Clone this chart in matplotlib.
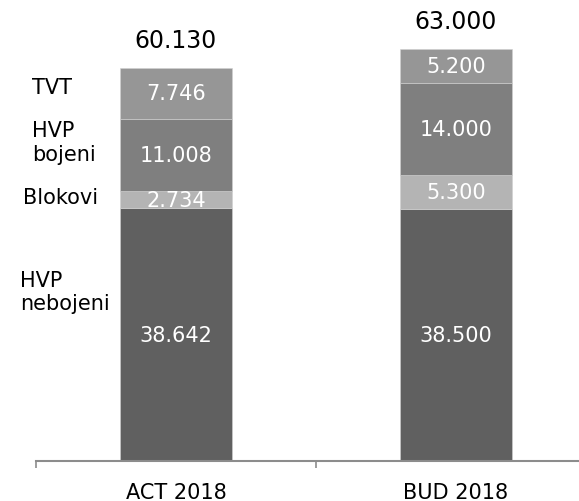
import matplotlib
matplotlib.use("Agg")
import matplotlib.pyplot as plt

# data (values in thousands, shown with dot separators)
categories = ["ACT 2018", "BUD 2018"]
series_names = ["HVP\nnebojeni", "Blokovi", "HVP\nbojeni", "TVT"]
hvp_nebojeni = [38642, 38500]
blokovi = [2734, 5300]
hvp_bojeni = [11008, 14000]
tvt = [7746, 5200]
totals = [60130, 63000]

colors = ["#606060", "#b4b4b4", "#7f7f7f", "#969696"]


def fmt(v):
    return "{:,}".format(v).replace(",", ".")


plt.rcParams["font.family"] = "DejaVu Sans"
fig = plt.figure(figsize=(5.79, 5.02), dpi=100)
ax = fig.add_axes([36 / 579, 40 / 502, 560 / 579, 457.5 / 502])

x = list(range(len(categories)))
bottom = [0, 0]
for vals, col in zip([hvp_nebojeni, blokovi, hvp_bojeni, tvt], colors):
    ax.bar(x, vals, width=0.4, bottom=bottom, color=col,
           edgecolor="#d0d0d0", linewidth=0.4)
    for i, v in enumerate(vals):
        ax.text(x[i], bottom[i] + v / 2, fmt(v), ha="center", va="center",
                color="white", fontsize=15)
    bottom = [b + v for b, v in zip(bottom, vals)]

# totals above bars
for i, t in enumerate(totals):
    ax.annotate(fmt(t), (x[i], t), xytext=(0, 20), textcoords="offset points",
                ha="center", va="center", fontsize=17, color="black")

# series names on the left
label_pos = [(-0.557, 25900), (-0.546, 40400), (-0.514, 48800), (-0.514, 57200)]
for name, (lx, ly) in zip(series_names, label_pos):
    ax.text(lx, ly, name, ha="left", va="center", fontsize=15,
            color="black", linespacing=1.2, clip_on=False)

ax.set_xlim(-0.5, 1.5)
ax.set_ylim(0, 70000)
ax.set_xticks(x)
ax.set_xticklabels(categories, fontsize=15)
ax.tick_params(axis="x", which="major", length=0, pad=15)
ax.set_xticks([-0.5, 0.5, 1.5], minor=True)
ax.tick_params(axis="x", which="minor", length=5, color="#8c8c8c", width=1.2)
ax.set_yticks([])
for s in ["top", "right", "left"]:
    ax.spines[s].set_visible(False)
ax.spines["bottom"].set_color("#8c8c8c")
ax.spines["bottom"].set_linewidth(1.5)

fig.savefig("out.png", dpi=100)
